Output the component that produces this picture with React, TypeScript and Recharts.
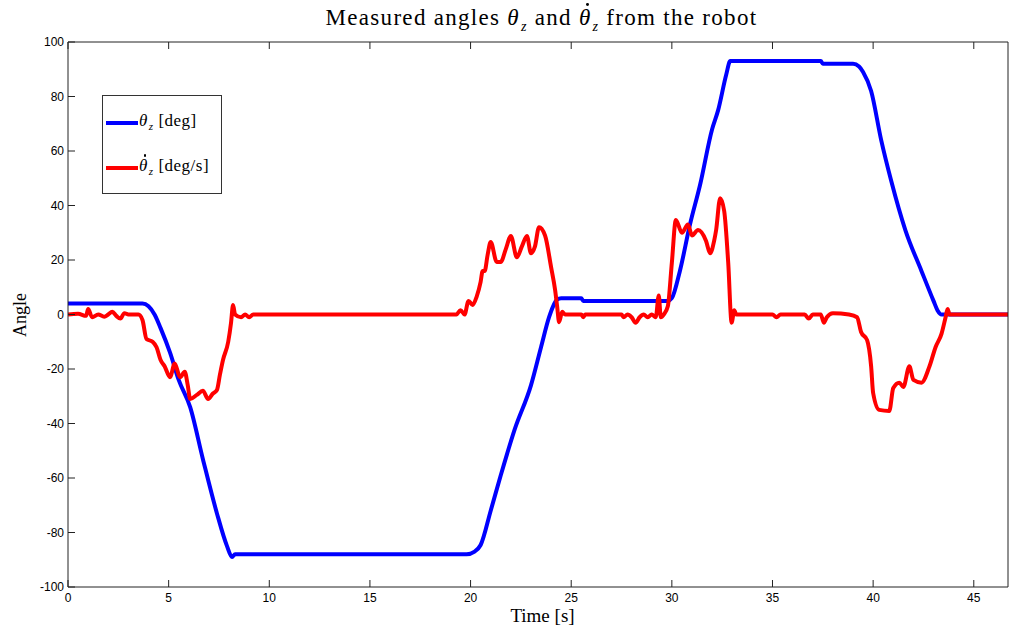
import React from "react";
import { LineChart, Line, XAxis, YAxis } from "recharts";

const thetaT = [0, 3.7, 4.0, 4.3, 4.6, 5.07, 5.5, 6.07, 6.7, 7.4, 7.9, 8.15, 8.3, 19.8, 20.2, 20.5, 21.0, 21.5, 22.2, 23.0, 23.5, 23.9, 24.1, 24.3, 24.5, 25.5, 25.6, 29.8, 30.0, 30.4, 30.9, 31.4, 32.0, 32.3, 32.7, 32.9, 37.4, 37.5, 39.0, 39.3, 39.5, 39.9, 40.4, 40.9, 41.6, 42.4, 43.0, 43.2, 43.4, 46.7];
const thetaV = [4, 4, 3, 0, -5, -14, -24, -34, -53, -73, -85, -89, -88, -88, -87, -84.6, -72, -59, -42, -26, -12, -1, 3, 5.5, 6, 6, 5, 5, 6, 16, 33, 47.5, 68, 75, 88, 93, 93, 92, 92, 91, 89, 82, 64, 49, 31, 16, 5, 1.5, 0, 0];

const rateT = [0, 0.5, 0.9, 1.0, 1.2, 1.5, 1.8, 2.0, 2.2, 2.4, 2.6, 2.8, 3.0, 3.5, 3.7, 3.9, 4.2, 4.4, 4.6, 4.8, 5.07, 5.3, 5.57, 5.8, 5.95, 6.07, 6.4, 6.7, 6.96, 7.2, 7.4, 7.55, 7.7, 7.96, 8.1, 8.2, 8.3, 8.6, 8.8, 9.0, 9.2, 19.3, 19.5, 19.7, 19.9, 20.1, 20.3, 20.5, 20.6, 20.7, 20.85, 21.0, 21.3, 21.5, 21.75, 22.0, 22.3, 22.55, 22.8, 23.0, 23.2, 23.4, 23.7, 24.0, 24.2, 24.3, 24.4, 24.55, 24.7, 25.5, 25.6, 25.7, 27.5, 27.6, 27.8, 28.0, 28.2, 28.4, 28.6, 28.8, 29.0, 29.2, 29.35, 29.45, 29.6, 29.8, 30.0, 30.2, 30.5, 30.8, 31.0, 31.3, 31.7, 31.9, 32.1, 32.2, 32.4, 32.6, 32.8, 32.97, 33.1, 33.2, 35.0, 35.2, 35.4, 36.6, 36.8, 37.0, 37.4, 37.55, 37.7, 38.0, 38.8, 39.2, 39.4, 39.7, 39.9, 40.0, 40.3, 40.8, 41.0, 41.3, 41.5, 41.8, 42.0, 42.4, 42.8, 43.1, 43.4, 43.6, 43.7, 43.8, 46.7];
const rateV = [0, 0.3, -0.5, 2, -1, 0, -0.8, 0, 1, -0.5, -1.5, 0.5, 0, 0, -2, -9, -10, -12, -16.7, -19, -23, -18, -23, -21, -26, -31, -29.5, -28, -31, -29, -27.7, -22, -16.7, -10, -3, 3.5, 0, -1, 0, -1, 0, 0, 1.6, 0, 5, 3.5, 6.5, 12, 16, 16, 22, 26.6, 19.3, 19.3, 24, 28.8, 21, 25, 28.8, 22.5, 25, 32, 29, 17.4, 9, 3, -2.8, 1, 0, 0, -1, 0, 0, -1, 0, -1, -3, -1, 0, -1, 0, -1, 7, -1, 0, 3, 19, 34.7, 30, 33, 29, 31, 27, 22.5, 27, 31, 42.7, 38, 19, -3, 1.6, 0, 0, -1, 0, 0, -1.5, 0, 0, -3, -1, 0.5, 0, -1, -6.4, -9.4, -19, -28.8, -35, -35.4, -27, -25, -26.6, -19, -24, -25, -19, -12, -7, -1, 2, 0, 0];

const xTicks = [0, 5, 10, 15, 20, 25, 30, 35, 40, 45];
const yTicks = [-100, -80, -60, -40, -20, 0, 20, 40, 60, 80, 100];
const X_MAX = 46.7;

const thetaData = thetaT.map((t, i) => ({ t, v: thetaV[i] }));
const rateData = rateT.map((t, i) => ({ t, v: rateV[i] }));

const W = 1009;
const H = 632;
const TOP = 42;
const BOTTOM = 587;
const LEFT = 68;
const RIGHT = 1008;
const TICK = 7;
const AX = "#222";
const tickFont = "'Liberation Sans', Arial, sans-serif";
const serif = "'Liberation Serif', 'DejaVu Serif', serif";

const BottomTick = (p: any) => (
  <g>
    <line x1={p.x} x2={p.x} y1={BOTTOM} y2={BOTTOM - TICK} stroke={AX} />
    <text x={p.x} y={BOTTOM + 15} textAnchor="middle" fontSize={12} fontFamily={tickFont} fill="#000">
      {p.payload.value}
    </text>
  </g>
);
const TopTick = (p: any) => (
  <line x1={p.x} x2={p.x} y1={TOP} y2={TOP + TICK} stroke={AX} />
);
const LeftTick = (p: any) => (
  <g>
    <line x1={LEFT} x2={LEFT + TICK} y1={p.y} y2={p.y} stroke={AX} />
    <text x={LEFT - 4} y={p.y + 4} textAnchor="end" fontSize={12} fontFamily={tickFont} fill="#000">
      {p.payload.value}
    </text>
  </g>
);
const RightTick = (p: any) => (
  <line x1={RIGHT} x2={RIGHT - TICK} y1={p.y} y2={p.y} stroke={AX} />
);

const Theta = ({ dot, sub }: { dot?: boolean; sub: number }) => (
  <span style={{ position: "relative", display: "inline-block" }}>
    <i>θ</i>
    {dot ? (
      <span
        style={{
          position: "absolute",
          left: "0.3em",
          top: "-0.1em",
          width: "0.13em",
          height: "0.13em",
          borderRadius: "50%",
          background: "#000",
        }}
      />
    ) : null}
    <sub style={{ fontSize: sub, marginLeft: 1 }}>
      <i>z</i>
    </sub>
  </span>
);

const LegendBox = () => (
  <div
    style={{
      position: "absolute",
      left: 102,
      top: 95,
      border: "1px solid #333",
      width: 120,
      height: 99,
      background: "#fff",
      boxSizing: "border-box",
      fontFamily: serif,
      fontSize: 17,
      letterSpacing: 0.5,
    }}
  >
    <div style={{ position: "absolute", left: 3, top: 17, display: "flex", alignItems: "center" }}>
      <div style={{ width: 32, height: 4, background: "#0000ff" }} />
      <span style={{ marginLeft: 1, marginTop: -2 }}>
        <Theta sub={11} />
        &nbsp;[deg]
      </span>
    </div>
    <div style={{ position: "absolute", left: 3, top: 62, display: "flex", alignItems: "center" }}>
      <div style={{ width: 32, height: 4, background: "#ff0000" }} />
      <span style={{ marginLeft: 1, marginTop: -2 }}>
        <Theta dot sub={11} />
        &nbsp;[deg/s]
      </span>
    </div>
  </div>
);

export default function App() {
  return (
    <div style={{ position: "absolute", left: 0, top: 0, width: W, height: H, background: "#fff" }}>
      <LineChart
        width={W}
        height={H}
        margin={{ top: TOP - 1, right: 0, left: 0, bottom: 0 }}
        style={{ position: "absolute", left: 0, top: 0 }}
      >
        <XAxis
          xAxisId="b"
          dataKey="t"
          type="number"
          domain={[0, X_MAX]}
          ticks={xTicks}
          allowDataOverflow
          height={H - BOTTOM}
          axisLine={{ stroke: AX }}
          tickLine={false}
          tick={<BottomTick />}
        />
        <XAxis
          xAxisId="t"
          orientation="top"
          dataKey="t"
          type="number"
          domain={[0, X_MAX]}
          ticks={xTicks}
          allowDataOverflow
          height={1}
          axisLine={{ stroke: AX }}
          tickLine={false}
          tick={<TopTick />}
        />
        <YAxis
          yAxisId="l"
          type="number"
          domain={[-100, 100]}
          ticks={yTicks}
          width={LEFT}
          axisLine={{ stroke: AX }}
          tickLine={false}
          tick={<LeftTick />}
        />
        <YAxis
          yAxisId="r"
          orientation="right"
          type="number"
          domain={[-100, 100]}
          ticks={yTicks}
          width={W - RIGHT}
          axisLine={{ stroke: AX }}
          tickLine={false}
          tick={<RightTick />}
        />
        <Line
          xAxisId="b"
          yAxisId="l"
          data={thetaData}
          dataKey="v"
          type="monotone"
          stroke="#0000ff"
          strokeWidth={4}
          dot={false}
          isAnimationActive={false}
          name="theta"
        />
        <Line
          xAxisId="b"
          yAxisId="l"
          data={rateData}
          dataKey="v"
          type="monotone"
          stroke="#ff0000"
          strokeWidth={4}
          dot={false}
          isAnimationActive={false}
          name="rate"
        />
      </LineChart>
      <div
        style={{
          position: "absolute",
          left: 0,
          width: W,
          top: 5,
          textAlign: "center",
          fontFamily: serif,
          fontSize: 23,
          letterSpacing: 1.3,
          paddingLeft: 74,
          boxSizing: "border-box",
          whiteSpace: "nowrap",
        }}
      >
        Measured angles <Theta sub={14} /> and <Theta dot sub={14} /> from the robot
      </div>
      <div
        style={{
          position: "absolute",
          left: 0,
          width: W,
          top: 605,
          textAlign: "center",
          fontFamily: serif,
          fontSize: 19,
          paddingLeft: 76,
          boxSizing: "border-box",
        }}
      >
        Time [s]
      </div>
      <div
        style={{
          position: "absolute",
          left: 20,
          top: 315,
          transform: "translate(-50%, -50%) rotate(-90deg)",
          fontFamily: serif,
          fontSize: 18,
        }}
      >
        Angle
      </div>
      <LegendBox />
    </div>
  );
}
